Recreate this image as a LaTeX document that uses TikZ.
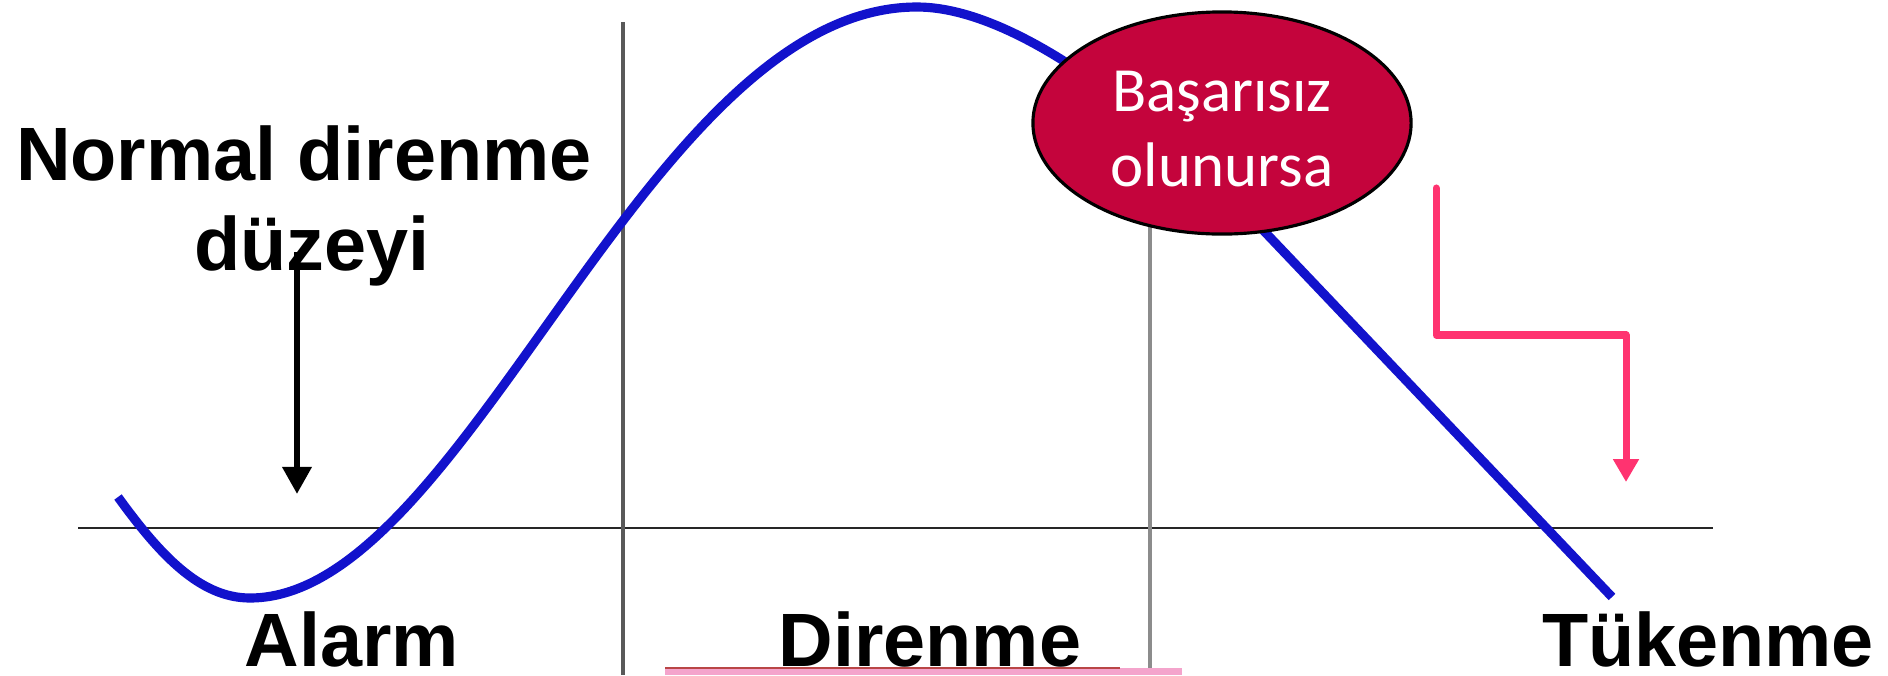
\documentclass[tikz,border=0pt]{standalone}
\usepackage{fontspec}
\setmainfont{Liberation Sans}
\newfontfamily\calibri{Carlito}
\usepackage{xcolor}
\usepackage{tikz}
\usetikzlibrary{shapes.geometric, arrows.meta, positioning, calc}

\definecolor{curveblue}{RGB}{18,18,204}
\definecolor{failred}{RGB}{196,4,60}
\definecolor{arrowpink}{RGB}{255,51,112}
\definecolor{barpink}{RGB}{244,164,204}

\begin{document}
\begin{tikzpicture}[x=0.01cm, y=-0.01cm,
  phase/.style={font=\fontsize{21.5}{25.6}\selectfont\bfseries, inner sep=0pt, anchor=base},
  divider/.style={line width=0.9pt}]
  \useasboundingbox (0,0) rectangle (1888,675);
  % Axis and the two phase dividers
  \coordinate (axL) at (78,528);
  \coordinate (axR) at (1713,528);
  \coordinate (d1T) at (623,22);
  \coordinate (d1B) at (623,675);
  \coordinate (d2T) at (1150,22);
  \coordinate (d2B) at (1150,675);
  \draw[line width=0.8pt, black!85] (axL) -- (axR);
  \draw[divider, black!65] (d1T) -- (d1B);
  \draw[divider, black!45] (d2T) -- (d2B);
  % Pink bar under "Direnme"
  \fill[barpink] (665,668) rectangle (1182,675);
  \draw[line width=0.7pt, red!45!gray] (665,668) -- (1120,668);
  % Resistance curve
  \coordinate (S) at (118,497);
  \coordinate (Min) at (250,598);
  \coordinate (Max) at (917,7);
  \coordinate (Bend) at (1263,230);
  \coordinate (E) at (1612,597);
  \draw[curveblue, line width=2.6pt] (S) .. controls (160,555) and (200,598) .. (Min)
    .. controls (466,598) and (646,7) .. (Max)
    .. controls (1020,7) and (1163,125) .. (Bend) -- (E);
  % Failure bubble
  \node[ellipse, draw, line width=0.9pt, fill=failred, text=white,
    minimum width=3.78cm, minimum height=2.22cm, inner sep=0pt, align=center,
    font=\calibri\fontsize{17.9}{21.4}\selectfont] (fail) at (1222,123)
    {\rule{0pt}{15pt}Başarısız\\olunursa};
  % Labels
  \node[phase] (normal) at (304,180) {Normal direnme};
  \node[phase] (level) at (312,270) {düzeyi};
  \node[phase] (alarm) at (352,666) {Alarm};
  \node[phase] (resist) at (930,666) {Direnme};
  \node[phase] (exhaust) at (1708,666) {Tükenme};
  % Arrows
  \coordinate (lvlTop) at (297,252);
  \coordinate (lvlTip) at (297,494);
  \draw[line width=1.8pt, -{Triangle[width=8pt,length=7.7pt]}] (lvlTop) -- (lvlTip);
  \coordinate (pinkA) at (1436,188);
  \coordinate (pinkB) at (1626,335);
  \coordinate (pinkTip) at (1626,482);
  \draw[arrowpink, line width=2pt, line cap=round, line join=round,
    -{Triangle[width=7pt,length=6.5pt]}] (pinkA) |- (pinkB) -- (pinkTip);
\end{tikzpicture}
\end{document}
